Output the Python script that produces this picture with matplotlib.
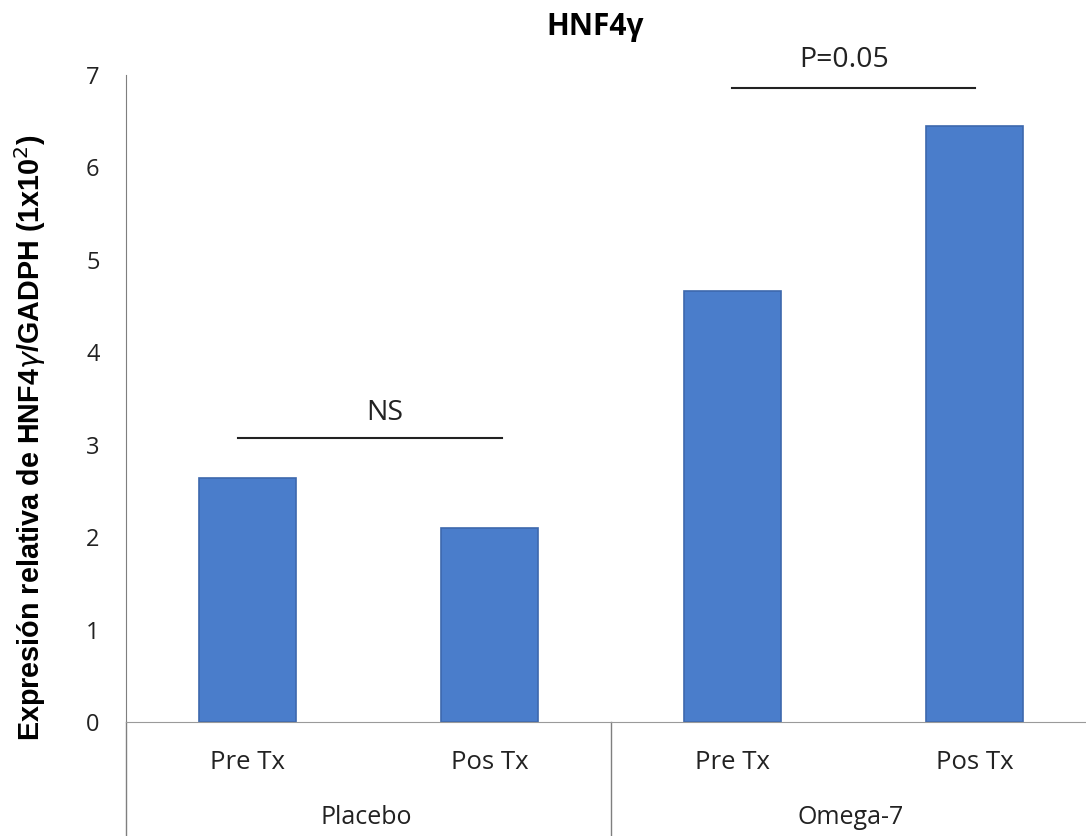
import matplotlib
matplotlib.use("Agg")
import matplotlib.pyplot as plt
import matplotlib.transforms as mtransforms

# data
groups = ["Placebo", "Omega-7"]
conditions = ["Pre Tx", "Pos Tx", "Pre Tx", "Pos Tx"]
values = [2.64, 2.10, 4.66, 6.45]
sig_labels = ["NS", "P=0.05"]

bar_color = "#4a7dcb"
edge_color = "#3d68ad"
txt = "#222222"

fig = plt.figure(figsize=(10.86, 8.36), dpi=100)
ax = fig.add_axes([126 / 1086, 0.1364, 970 / 1086, 0.7739])

xs = range(len(values))
ax.bar(xs, values, width=0.4, color=bar_color, edgecolor=edge_color, linewidth=1.2)

ax.set_xlim(-0.5, 3.5)
ax.set_ylim(0, 7)
ax.set_yticks(range(0, 8))

for s in ["top", "right"]:
    ax.spines[s].set_visible(False)
ax.spines["left"].set_color("#7f7f7f")
ax.spines["bottom"].set_color("#9a9a9a")
ax.spines["left"].set_bounds(0, 7)

ax.tick_params(axis="y", length=0, pad=19, labelsize=17, labelcolor=txt)
ax.tick_params(axis="x", length=0, pad=20, labelsize=18.5, labelcolor=txt)
for lab in ax.get_yticklabels():
    lab.set_fontfamily("Open Sans")

ax.set_xticks(list(xs))
ax.set_xticklabels(conditions, fontfamily="Open Sans")

# group separators below the axis
trans = mtransforms.blended_transform_factory(ax.transData, ax.transAxes)
for xsep in [-0.5, 1.5]:
    ax.plot([xsep, xsep], [0, -0.18], transform=trans, color="#7f7f7f",
            lw=1, clip_on=False)
for i, g in enumerate(groups):
    ax.text(2 * i + 0.49, -0.147, g, transform=trans, ha="center", va="center",
            fontsize=18, fontfamily="Open Sans", color=txt)

# significance bars
ax.plot([-0.04, 1.05], [3.07, 3.07], color=txt, lw=1.5, clip_on=False)
ax.text(0.565, 3.34, sig_labels[0], ha="center", va="center", fontsize=20.5,
        fontfamily="Open Sans", color=txt)
ax.plot([2.0, 3.0], [6.86, 6.86], color=txt, lw=1.5, clip_on=False)
ax.text(2.46, 7.16, sig_labels[1], ha="center", va="center", fontsize=20.5,
        fontfamily="Open Sans", color=txt, clip_on=False)

fig.text(30 / 1086, 1 - 438 / 836,
         "Expresión relativa de HNF4$\\gamma$/GADPH (1x10$^2$)",
         rotation=90, ha="center", va="center",
         fontsize=20.7, fontweight="bold", fontfamily="Liberation Sans")

fig.text(595 / 1086, 1 - 27 / 836, "HNF4γ", ha="center", va="center",
         fontsize=21.5, fontweight="bold", fontfamily="Open Sans")

fig.savefig("out.png", dpi=100)
